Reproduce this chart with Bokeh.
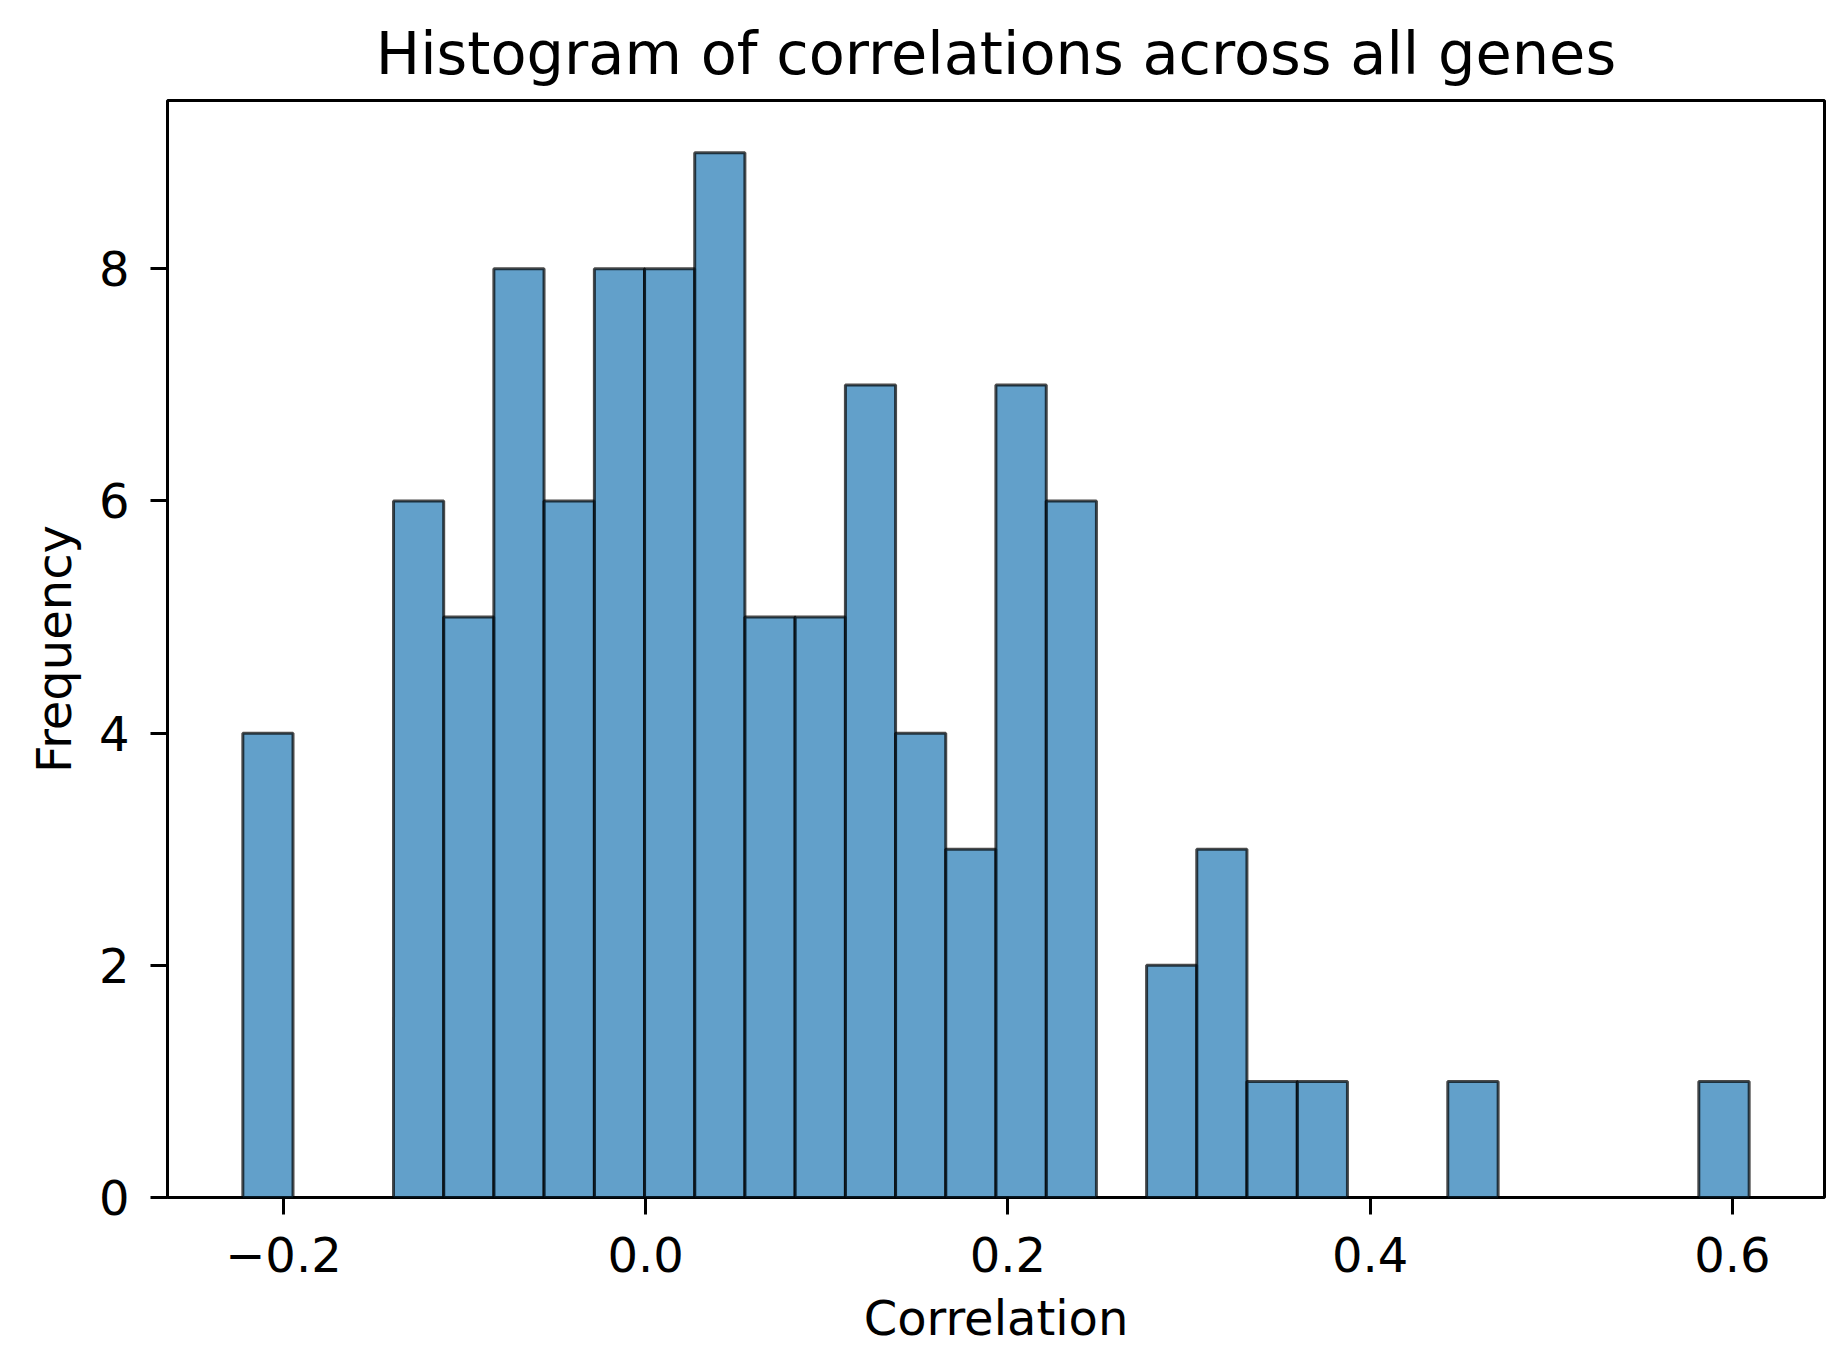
from bokeh.plotting import figure
from bokeh.models import FixedTicker, CustomJSTickFormatter, Range1d
from bokeh.embed import file_html
from bokeh.resources import INLINE

# Histogram bin edges (30 bins)
bin_edges = [-0.2224, -0.1947, -0.1670, -0.1392, -0.1115, -0.0838, -0.0561, -0.0283,
             -0.0006, 0.0271, 0.0548, 0.0825, 0.1103, 0.1380, 0.1657, 0.1934,
             0.2212, 0.2489, 0.2766, 0.3043, 0.3320, 0.3598, 0.3875, 0.4152,
             0.4429, 0.4707, 0.4984, 0.5261, 0.5538, 0.5815, 0.6093]
# Counts per bin
counts = [4, 0, 0, 6, 5, 8, 6, 8, 8, 9, 5, 5, 7, 4, 3, 7, 6, 0, 2, 3, 1, 1, 0, 0, 1, 0, 0, 0, 0, 1]

x_ticks = [-0.2, 0.0, 0.2, 0.4, 0.6]
y_ticks = [0, 2, 4, 6, 8]

FONT = "DejaVu Sans"

p = figure(width=1828, height=1348, output_backend="svg", toolbar_location=None,
           x_range=Range1d(-0.2640, 0.6509), y_range=Range1d(0, 9.45),
           min_border_left=167, min_border_right=4, min_border_top=100, min_border_bottom=151)

p.title.text = "Histogram of correlations across all genes"
p.title.align = "center"
p.title.text_font = FONT
p.title.text_font_size = "59px"
p.title.text_font_style = "normal"
p.title.text_color = "black"
p.title.standoff = 26

lefts = bin_edges[:-1]
rights = bin_edges[1:]
p.quad(left=lefts, right=rights, top=counts, bottom=0,
       fill_color="#1f77b4", fill_alpha=0.7,
       line_color="black", line_alpha=0.7, line_width=3)

p.xgrid.visible = False
p.ygrid.visible = False
p.outline_line_color = "black"
p.outline_line_width = 3
p.outline_line_alpha = 1.0
p.background_fill_color = "white"
p.border_fill_color = "white"

for ax in (p.xaxis[0], p.yaxis[0]):
    ax.axis_line_color = None
    ax.major_tick_line_color = "black"
    ax.major_tick_line_width = 3
    ax.major_tick_in = 0
    ax.major_tick_out = 17
    ax.minor_tick_line_color = None
    ax.major_label_text_font = FONT
    ax.major_label_text_font_size = "48px"
    ax.major_label_text_color = "black"
    ax.axis_label_text_font = FONT
    ax.axis_label_text_font_size = "48px"
    ax.axis_label_text_font_style = "normal"
    ax.axis_label_text_color = "black"

p.xaxis[0].ticker = FixedTicker(ticks=x_ticks)
p.xaxis[0].formatter = CustomJSTickFormatter(code="return tick.toFixed(1).replace('-', '\u2212');")
p.xaxis[0].major_label_standoff = 22
p.xaxis[0].axis_label = "Correlation"
p.xaxis[0].axis_label_standoff = 15

p.yaxis[0].ticker = FixedTicker(ticks=y_ticks)
p.yaxis[0].formatter = CustomJSTickFormatter(code="return tick.toFixed(0);")
p.yaxis[0].major_label_standoff = 21
p.yaxis[0].axis_label = "Frequency"
p.yaxis[0].axis_label_standoff = 14

open("out.html", "w").write(file_html(p, INLINE))
